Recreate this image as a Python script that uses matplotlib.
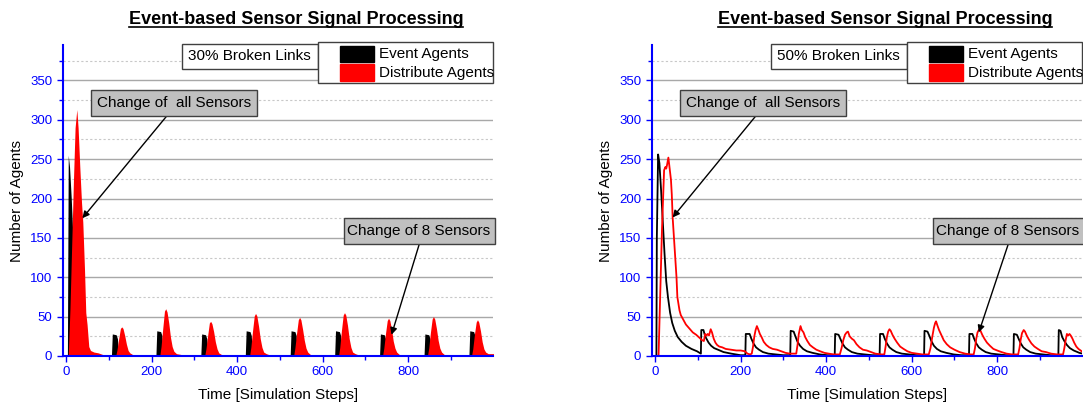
# Import libraries
import matplotlib
matplotlib.use('Agg')
import matplotlib.pyplot as plt
from matplotlib.patches import Rectangle
from matplotlib.lines import Line2D

plt.rcParams['font.family'] = ['Liberation Sans', 'DejaVu Sans']

W, H = 1083, 403

title = "Event-based Sensor Signal Processing"
seriesNames = ["Event Agents", "Distribute Agents"]
brokenLabels = ["30% Broken Links", "50% Broken Links"]
noteAll = "Change of  all Sensors"
noteEight = "Change of 8 Sensors"
xTicks = [0, 200, 400, 600, 800]
yTicks = [0, 50, 100, 150, 200, 250, 300, 350]

# Left panel (30% broken links), filled areas
leftEventT = [0, 3, 5, 8, 12, 16, 20, 25, 30, 40, 50, 60,
              106, 108, 117, 120, 123,
              210, 212, 221, 224, 227,
              315, 317, 326, 329, 332,
              419, 421, 430, 433, 436,
              524, 526, 535, 538, 541,
              628, 630, 639, 642, 645,
              733, 735, 744, 747, 750,
              837, 839, 848, 851, 854,
              942, 944, 953, 956, 959, 1000]
leftEventV = [0, 0, 255, 240, 200, 150, 100, 60, 30, 10, 3, 0,
              0, 28, 27, 22, 0,
              0, 32, 31, 26, 0,
              0, 28, 27, 22, 0,
              0, 32, 31, 26, 0,
              0, 32, 31, 26, 0,
              0, 32, 31, 26, 0,
              0, 28, 27, 22, 0,
              0, 28, 27, 22, 0,
              0, 32, 31, 26, 0, 0]

leftDistT = [5, 9, 13, 17, 21, 25, 28, 32, 36, 39, 43, 46, 49, 53, 57, 65, 75, 85, 95, 105,
             116, 119, 123, 127, 130, 133, 137, 141, 145, 149, 155, 165, 172,
             219, 222, 226, 230, 233, 236, 240, 244, 248, 252, 258, 268, 275,
             324, 327, 331, 335, 338, 341, 345, 349, 353, 357, 363, 373, 380,
             429, 432, 436, 440, 443, 446, 450, 454, 458, 462, 468, 478, 485,
             532, 535, 539, 543, 546, 549, 553, 557, 561, 565, 571, 581, 588,
             637, 640, 644, 648, 651, 654, 658, 662, 666, 670, 676, 686, 693,
             740, 743, 747, 751, 754, 757, 761, 765, 769, 773, 779, 789, 796,
             845, 848, 852, 856, 859, 862, 866, 870, 874, 878, 884, 894, 901,
             948, 951, 955, 959, 962, 965, 969, 973, 977, 981, 987, 995, 1000]
leftDistV = [0, 60, 140, 220, 290, 313, 290, 240, 195, 170, 110, 55, 40, 12, 7, 5, 4, 2, 1, 0,
             0, 8, 22, 35, 37, 35, 26, 15, 7, 4, 2, 1, 0,
             0, 12, 35, 57, 60, 56, 42, 24, 12, 6, 3, 2, 0,
             0, 9, 26, 42, 44, 41, 31, 18, 9, 4, 2, 1, 0,
             0, 11, 32, 51, 54, 51, 38, 22, 11, 5, 3, 1, 0,
             0, 10, 29, 46, 49, 46, 34, 20, 10, 5, 2, 1, 0,
             0, 11, 33, 52, 55, 52, 39, 22, 11, 5, 3, 1, 0,
             0, 10, 29, 45, 48, 45, 34, 19, 10, 5, 2, 1, 0,
             0, 10, 30, 47, 50, 47, 35, 20, 10, 5, 2, 1, 0,
             0, 9, 28, 43, 46, 43, 32, 18, 9, 5, 3, 3, 3]

# Right panel (50% broken links), lines
rightEventT = [0, 3, 4, 7, 10, 14, 18, 22, 26, 30, 35, 40, 46, 53, 62, 72, 85, 98, 107,
               108, 113, 117, 121, 125, 131, 138, 147, 160, 178, 200, 211,
               212, 221, 225, 230, 236, 243, 252, 265, 282, 300, 316,
               317, 324, 328, 333, 339, 346, 355, 368, 385, 403, 420,
               421, 429, 433, 438, 444, 451, 460, 473, 490, 508, 525,
               526, 533, 537, 542, 548, 555, 564, 577, 594, 612, 629,
               630, 637, 641, 646, 652, 659, 668, 681, 698, 716, 734,
               735, 742, 746, 751, 757, 764, 773, 786, 803, 821, 838,
               839, 846, 850, 855, 861, 868, 877, 890, 907, 925, 943,
               944, 948, 952, 957, 963, 970, 979, 992, 1000]
rightEventV = [0, 0, 150, 256, 245, 210, 170, 130, 95, 75, 55, 42, 32, 24, 18, 13, 9, 6, 3,
               33, 33, 25, 21, 17, 13, 10, 8, 5, 3, 1, 1,
               28, 28, 22, 16, 11, 8, 5, 3, 2, 1, 1,
               32, 31, 25, 18, 13, 9, 6, 4, 2, 1, 1,
               28, 27, 22, 16, 11, 8, 5, 3, 2, 1, 1,
               28, 28, 22, 16, 11, 8, 5, 3, 2, 1, 1,
               32, 31, 26, 19, 13, 9, 6, 4, 2, 1, 1,
               28, 28, 22, 16, 11, 8, 5, 3, 2, 1, 1,
               28, 27, 22, 16, 11, 8, 5, 3, 2, 1, 1,
               33, 32, 24, 19, 14, 10, 7, 4, 3]

rightDistT = [0, 8, 12, 16, 21, 24, 26, 28, 31, 34, 37, 39, 41, 44, 47, 50, 52, 55, 57, 60,
              66, 72, 80, 88, 96, 104, 110,
              114, 117, 120, 123, 126, 130, 133, 137, 141, 145, 150, 157, 165, 177, 190, 200, 210, 216, 222,
              226, 229, 232, 235, 238, 241, 245, 249, 254, 260, 267, 275, 285, 295, 305, 315, 325,
              330, 333, 336, 340, 343, 347, 351, 356, 362, 369, 377, 386, 396, 406, 418, 428,
              432, 436, 440, 444, 448, 451, 455, 460, 465, 471, 478, 486, 495, 505, 515, 530,
              536, 539, 542, 545, 548, 551, 555, 560, 566, 573, 581, 590, 600, 612, 625, 634,
              640, 644, 648, 652, 655, 657, 660, 664, 669, 675, 682, 690, 700, 712, 725, 738,
              745, 748, 751, 754, 758, 761, 765, 770, 776, 783, 791, 800, 810, 822, 835, 842,
              849, 852, 855, 858, 862, 865, 869, 874, 880, 887, 895, 904, 914, 926, 940, 948,
              954, 957, 960, 963, 966, 969, 972, 976, 980, 985, 990, 995, 1000]
rightDistV = [0, 0, 80, 160, 236, 240, 238, 243, 252, 238, 224, 205, 176, 150, 126, 100, 75, 65, 58, 52,
              46, 40, 35, 30, 27, 23, 20,
              19, 28, 26, 28, 26, 34, 30, 22, 17, 14, 12, 11, 9, 8, 7, 7, 6, 3, 2,
              3, 12, 25, 33, 38, 34, 28, 24, 18, 14, 11, 9, 8, 6, 4, 3, 3,
              3, 14, 28, 38, 33, 30, 24, 19, 14, 11, 8, 6, 4, 3, 2, 2,
              2, 10, 20, 27, 30, 31, 25, 22, 20, 15, 11, 8, 7, 5, 3, 2,
              2, 12, 24, 31, 34, 32, 27, 22, 17, 12, 9, 6, 4, 3, 2, 2,
              2, 10, 24, 36, 42, 44, 39, 33, 27, 20, 15, 11, 8, 5, 3, 2,
              2, 10, 22, 30, 34, 32, 27, 22, 17, 13, 9, 7, 5, 3, 2, 2,
              2, 10, 21, 29, 33, 31, 26, 21, 16, 12, 9, 6, 5, 3, 2, 2,
              2, 10, 20, 28, 26, 28, 26, 22, 17, 12, 9, 7, 5]

# Arrow targets (data coords) for the two notes in each panel
allTargets = [(38, 175), (41, 176)]
eightTargets = [(761, 27), (757, 30)]


def px(x, y):
    """ Convert pixel position (from top-left) to figure fraction. """
    return x / W, 1 - y / H


def drawBox(fig, x0, y0, x1, y1, face, edge='#404040'):
    fig.add_artist(Rectangle(px(x0, y1), (x1 - x0) / W, (y1 - y0) / H,
                             transform=fig.transFigure, facecolor=face,
                             edgecolor=edge, linewidth=1.0, zorder=5))


def setupAxes(ax):
    blue = '#0000ff'
    ax.set_xlim(-8, 999)
    ax.set_ylim(0, 395)
    ax.set_xticks(xTicks)
    ax.set_xticks([100, 300, 500, 700, 900], minor=True)
    ax.set_yticks(yTicks)
    ax.set_yticks([25, 75, 125, 175, 225, 275, 325, 375], minor=True)
    for s in ['top', 'right']:
        ax.spines[s].set_visible(False)
    for s in ['left', 'bottom']:
        ax.spines[s].set_color(blue)
        ax.spines[s].set_linewidth(1.5)
    ax.tick_params(which='both', direction='out', colors=blue, labelsize=9.5, width=1)
    ax.tick_params(which='major', length=4)
    ax.tick_params(which='minor', length=3)
    ax.set_axisbelow(True)
    ax.grid(True, which='major', axis='y', color='#a8a8a8', linewidth=1.0)
    ax.grid(True, which='minor', axis='y', color='#c8c8c8', linewidth=0.8,
            linestyle=(0, (2, 2)))
    ax.set_xlabel('Time [Simulation Steps]', fontsize=11, labelpad=7)
    ax.set_ylabel('Number of Agents', fontsize=11, labelpad=4)


def decorate(fig, ax, dx, k):
    """ Title, boxes, legend and arrows; dx shifts everything in pixels. """
    t = fig.text(*px(296 + dx, 24), title, fontsize=13, fontweight='bold',
                 ha='center', va='baseline')
    fig.canvas.draw()
    bb = t.get_window_extent()
    yline = bb.y0 + 1.0
    fig.add_artist(Line2D([bb.x0 / W, bb.x1 / W], [yline / H, yline / H],
                          transform=fig.transFigure, color='black', linewidth=1.2))

    # broken links box
    drawBox(fig, 181.5 + dx, 43.7, 317.7 + dx, 68.9, 'white')
    fig.text(*px(249.6 + dx, 56.3), brokenLabels[k], fontsize=11,
             ha='center', va='center', zorder=6)

    # legend box
    drawBox(fig, 317.7 + dx, 42.3, 493.3 + dx, 83.3, 'white')
    drawBox(fig, 340 + dx, 45.7, 374 + dx, 62.3, 'black', edge='black')
    drawBox(fig, 340 + dx, 64.3, 374 + dx, 81, '#ff0000', edge='#ff0000')
    fig.text(*px(379 + dx, 54), seriesNames[0], fontsize=11, ha='left',
             va='center', zorder=6)
    fig.text(*px(379 + dx, 72.7), seriesNames[1], fontsize=11, ha='left',
             va='center', zorder=6)

    # notes with arrows
    drawBox(fig, 91 + dx, 90, 256.5 + dx, 115.7, '#c0c0c0')
    fig.text(*px(174 + dx, 102.9), noteAll, fontsize=11, ha='center',
             va='center', zorder=6)
    drawBox(fig, 343.7 + dx, 218, 494.8 + dx, 243.7, '#c0c0c0')
    fig.text(*px(419 + dx, 230.9), noteEight, fontsize=11, ha='center',
             va='center', zorder=6)

    arrow = dict(arrowstyle='-|>', color='black', lw=1.0, mutation_scale=10,
                 shrinkA=0, shrinkB=0)
    ax.annotate('', xy=allTargets[k], xycoords='data',
                xytext=px(167 + dx, 115.7), textcoords='figure fraction',
                arrowprops=arrow, annotation_clip=False)
    ax.annotate('', xy=eightTargets[k], xycoords='data',
                xytext=px(419.4 + dx, 243.7), textcoords='figure fraction',
                arrowprops=arrow, annotation_clip=False)


def plotData():
    fig = plt.figure(figsize=(W / 100, H / 100), dpi=100)
    left = fig.add_axes([62.7 / W, 47 / H, 430.6 / W, 311 / H])
    right = fig.add_axes([651.7 / W, 47 / H, 430.6 / W, 311 / H])

    for ax in (left, right):
        setupAxes(ax)

    left.fill_between(leftEventT, leftEventV, 0, color='black', linewidth=0)
    left.fill_between(leftDistT, leftDistV, 0, color='#ff0000', linewidth=0)

    right.plot(rightEventT, rightEventV, color='black', linewidth=1.3)
    right.plot(rightDistT, rightDistV, color='#ff0000', linewidth=1.3)

    decorate(fig, left, 0, 0)
    decorate(fig, right, 589, 1)

    fig.savefig('out.png', dpi=100)


if __name__ == "__main__":
    plotData()
